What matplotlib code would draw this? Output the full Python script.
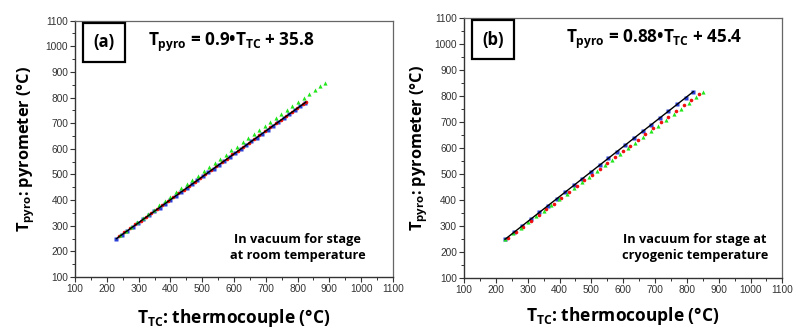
import matplotlib
matplotlib.use("Agg")
import matplotlib.pyplot as plt
from matplotlib.ticker import MultipleLocator

FONT = 'Open Sans'
plt.rcParams['mathtext.fontset'] = 'custom'
plt.rcParams['mathtext.rm'] = FONT + ':bold'
plt.rcParams['mathtext.it'] = FONT + ':bold'
plt.rcParams['mathtext.bf'] = FONT + ':bold'

# ---------------- Panel (a) data ----------------
a_blue_x = [230, 247, 264, 281, 298, 315, 332, 349, 366, 383, 400, 417, 434, 451, 468, 485, 502, 519,
            536, 553, 570, 587, 604, 621, 638, 655, 672, 689, 706, 723, 740, 757, 774, 791, 808, 822]
a_blue_y = [250, 265, 280, 296, 311, 326, 341, 356, 371, 386, 402, 417, 432, 447, 462, 477, 493, 508,
            523, 538, 553, 568, 584, 599, 614, 629, 644, 659, 675, 690, 705, 720, 735, 750, 766, 778]
a_red_x = [238, 255, 272, 289, 306, 323, 340, 357, 374, 391, 408, 425, 442, 459, 476, 493, 510, 527,
           544, 561, 578, 595, 612, 629, 646, 663, 680, 697, 714, 731, 748, 765, 782, 799, 816, 826]
a_red_y = [259, 274, 290, 305, 320, 335, 350, 365, 380, 396, 411, 426, 441, 456, 471, 487, 502, 517,
           532, 547, 562, 578, 593, 608, 623, 638, 653, 669, 684, 699, 714, 729, 744, 760, 775, 781]
a_green_x = [242, 259, 277, 294, 312, 329, 347, 364, 382, 399, 417, 434, 452, 469, 487, 504, 522, 539,
             557, 574, 592, 609, 627, 644, 662, 679, 697, 714, 732, 749, 767, 784, 802, 819, 837, 854, 870, 886]
a_green_y = [264, 280, 297, 313, 330, 346, 363, 380, 397, 413, 430, 446, 463, 479, 496, 512, 530, 545,
             562, 577, 594, 609, 625, 641, 657, 673, 689, 705, 721, 736, 752, 767, 784, 799, 815, 831, 845, 858]
a_fit_x = [230, 826]
a_fit_y = [250, 782]

# ---------------- Panel (b) data ----------------
b_blue_x = [229, 256, 283, 310, 337, 364, 391, 418, 445, 472, 499, 526, 553, 580, 607, 634, 661, 688,
            715, 742, 769, 796, 820]
b_blue_y = [250, 276, 302, 328, 353, 379, 405, 431, 457, 483, 509, 535, 560, 586, 612, 638, 664, 690,
            716, 741, 767, 793, 816]
b_red_x = [238, 262, 286, 310, 334, 358, 382, 406, 430, 454, 478, 502, 526, 550, 574, 598, 622, 646,
           670, 694, 718, 742, 766, 790, 814, 838]
b_red_y = [254, 276, 298, 320, 342, 365, 387, 409, 431, 453, 476, 498, 520, 542, 564, 587, 609, 631,
           653, 675, 698, 720, 742, 764, 786, 807]
b_green_x = [230, 254, 278, 302, 326, 350, 374, 398, 422, 446, 470, 494, 518, 542, 566, 590, 614, 638,
             662, 686, 710, 734, 758, 782, 806, 830, 851]
b_green_y = [251, 273, 294, 316, 338, 359, 382, 404, 425, 447, 469, 490, 512, 534, 555, 577, 599, 620,
             642, 664, 685, 707, 729, 750, 772, 794, 813]
b_fit_x = [229, 820]
b_fit_y = [250, 816]

ticks = [100, 200, 300, 400, 500, 600, 700, 800, 900, 1000, 1100]

panels = [
    dict(rect=[0.094, 0.168, 0.397, 0.770], tag="(a)", ylpad=6, xlpad=9,
         eq=r"$T_{pyro}$ = 0.9•$T_{TC}$ + 35.8", eqx=0.228,
         note="In vacuum for stage\nat room temperature", notex=0.70,
         blue=(a_blue_x, a_blue_y), red=(a_red_x, a_red_y), green=(a_green_x, a_green_y),
         fit=(a_fit_x, a_fit_y)),
    dict(rect=[0.580, 0.164, 0.398, 0.783], tag="(b)", ylpad=3, xlpad=7,
         eq=r"$T_{pyro}$ = 0.88•$T_{TC}$ + 45.4", eqx=0.32,
         note="In vacuum for stage at\ncryogenic temperature", notex=0.725,
         blue=(b_blue_x, b_blue_y), red=(b_red_x, b_red_y), green=(b_green_x, b_green_y),
         fit=(b_fit_x, b_fit_y)),
]

fig = plt.figure(figsize=(8.0, 3.33), dpi=100)
for p in panels:
    ax = fig.add_axes(p['rect'])
    ax.plot(*p['blue'], ls='none', marker='s', ms=2.2, color='#2a3fd8', mec='none')
    ax.plot(*p['red'], ls='none', marker='o', ms=2.6, color='#f01010', mec='none')
    ax.plot(*p['green'], ls='none', marker='^', ms=3.0, color='#22e51c', mec='none')
    ax.plot(*p['fit'], color='black', lw=1.0)
    ax.set_xlim(100, 1100)
    ax.set_ylim(100, 1100)
    ax.set_xticks(ticks)
    ax.set_yticks(ticks)
    ax.xaxis.set_minor_locator(MultipleLocator(50))
    ax.yaxis.set_minor_locator(MultipleLocator(50))
    ax.tick_params(which='major', direction='out', length=3.5, width=0.8, color='#333333',
                   labelsize=7.3, labelcolor='#333333', pad=1.5)
    ax.tick_params(which='minor', direction='out', length=2, width=0.7, color='#333333')
    for lbl in ax.get_xticklabels() + ax.get_yticklabels():
        lbl.set_family('Liberation Sans')
    for s in ['left', 'bottom']:
        ax.spines[s].set_color('#333333')
        ax.spines[s].set_linewidth(1.0)
    for s in ['top', 'right']:
        ax.spines[s].set_color('#666666')
        ax.spines[s].set_linewidth(0.9)
    ax.set_xlabel(r"$T_{TC}$: thermocouple (°C)", family=FONT, fontweight='bold',
                  fontsize=12.5, labelpad=p['xlpad'])
    ax.set_ylabel(r"$T_{pyro}$: pyrometer (°C)", family=FONT, fontweight='bold',
                  fontsize=11.8, labelpad=p['ylpad'])
    ax.text(0.09, 0.915, p['tag'], transform=ax.transAxes, ha='center', va='center',
            family=FONT, fontweight='bold', fontsize=12,
            bbox=dict(boxstyle='square,pad=0.62', fc='white', ec='black', lw=1.6))
    ax.text(p['eqx'], 0.915, p['eq'], transform=ax.transAxes, ha='left', va='center',
            family=FONT, fontweight='bold', fontsize=12.3)
    ax.text(p['notex'], 0.117, p['note'], transform=ax.transAxes, ha='center', va='center',
            family=FONT, fontweight='bold', fontsize=9.2, linespacing=1.3)

fig.savefig('out.png', dpi=100)
